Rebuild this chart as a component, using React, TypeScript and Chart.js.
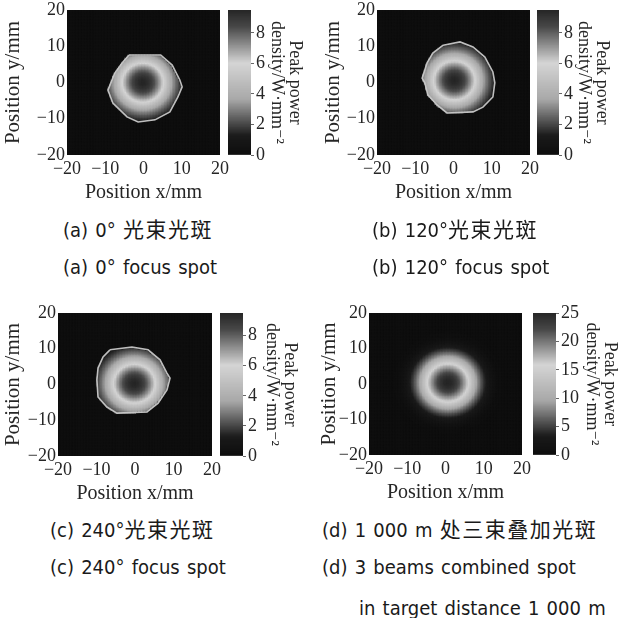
import React, { useEffect, useRef } from 'react';
import { Chart, registerables } from 'chart.js';

Chart.register(...registerables);

// ---------------- data ----------------
const POSITION_TICKS = [-20, -10, 0, 10, 20];
const POSITION_MIN = -20;
const POSITION_MAX = 20;

const SINGLE_BEAM_TICKS = [0, 2, 4, 6, 8];
const SINGLE_BEAM_MAX = 9.5;
const COMBINED_TICKS = [0, 5, 10, 15, 20, 25];
const COMBINED_MAX = 25;

// radial peak power density profile, sampled at r = 0,1,2,... mm
const PROFILE_RADII = [0, 1, 2, 3, 4, 5, 6, 7, 8, 9, 10, 11, 12, 13, 14, 15, 16];
const PROFILE_A = [9.5, 9.3, 8.9, 8.2, 7.3, 6.3, 5.2, 4.1, 3.1, 2.3, 1.6, 1.1, 0.7, 0.4, 0.2, 0.1, 0];
const PROFILE_B = [9.5, 9.3, 8.9, 8.2, 7.3, 6.3, 5.2, 4.1, 3.1, 2.3, 1.6, 1.1, 0.7, 0.4, 0.2, 0.1, 0];
const PROFILE_C = [9.5, 9.3, 8.9, 8.2, 7.3, 6.3, 5.2, 4.1, 3.1, 2.3, 1.6, 1.1, 0.7, 0.4, 0.2, 0.1, 0];
const PROFILE_D = [25, 24.6, 23.5, 21.5, 19, 16.5, 13.5, 10.5, 7.5, 5, 3, 1.7, 0.9, 0.4, 0.2, 0.1, 0];

// beam centres (mm)
const CENTER_A = [0.0, 0.1];
const CENTER_B = [0.4, 0.7];
const CENTER_C = [0.0, 0.4];
const CENTER_D = [0.8, 0.5];

// aperture (spot truncation) outlines, [x, y] in mm
const APERTURE_A = [
  [-3.8, 7.6], [4.5, 7.6], [7.5, 4.8], [9.5, 0.7], [10.1, -1.2], [9.0, -4.0],
  [6.9, -8.1], [3.0, -10.3], [-1.4, -10.9], [-4.3, -9.5], [-8.0, -5.7],
  [-9.3, -2.1], [-7.5, 2.6], [-5.6, 5.4],
];
const APERTURE_B = [
  [-2.7, 10.3], [1.7, 11.2], [5.1, 9.8], [8.2, 7.0], [10.3, 2.9], [10.8, -0.1],
  [10.3, -4.0], [7.7, -6.8], [5.1, -8.1], [-1.7, -8.4], [-4.3, -6.2], [-6.7, -3.4],
  [-7.5, -0.1], [-8.2, 1.2], [-6.9, 5.4], [-5.4, 8.1],
];
const APERTURE_C = [
  [-6.5, 9.7], [-0.8, 10.5], [3.4, 9.7], [6.5, 6.9], [8.3, 3.2], [9.1, 1.8],
  [8.3, -1.5], [6.0, -5.2], [3.1, -7.7], [-4.7, -8.0], [-7.3, -6.3], [-9.6, -3.5],
  [-9.9, 1.3], [-9.6, 4.6], [-8.3, 7.7],
];

const CAPTION_A = ['(a) 0° 光束光斑', '(a) 0° focus spot'];
const CAPTION_B = ['(b) 120°光束光斑', '(b) 120° focus spot'];
const CAPTION_C = ['(c) 240°光束光斑', '(c) 240° focus spot'];
const CAPTION_D = ['(d) 1 000 m 处三束叠加光斑', '(d) 3 beams combined spot', 'in target distance 1 000 m'];

const X_TITLE = 'Position x/mm';
const Y_TITLE = 'Position y/mm';
const CB_TITLE = ['Peak power', 'density/W·mm⁻²'];

// ---------------- helpers ----------------
const GRID_STEP = 0.4;
const SERIF = '"Liberation Serif", "DejaVu Serif", serif';
const TEXT = '#262626';

function jetGray(t: number): string {
  const c = Math.min(1, Math.max(0, t));
  const cl = (v: number) => Math.min(1, Math.max(0, v));
  const r = cl(1.5 - Math.abs(4 * c - 3));
  const g = cl(1.5 - Math.abs(4 * c - 2));
  const b = cl(1.5 - Math.abs(4 * c - 1));
  const lum = 0.299 * r + 0.587 * g + 0.114 * b;
  const v = Math.round(lum * 240);
  return `rgb(${v},${v},${v})`;
}

function profileAt(profile: number[], r: number): number {
  const last = PROFILE_RADII.length - 1;
  if (r >= PROFILE_RADII[last]) return profile[last];
  let i = 0;
  while (i < last && PROFILE_RADII[i + 1] < r) i++;
  const r0 = PROFILE_RADII[i];
  const r1 = PROFILE_RADII[i + 1];
  const f = (r - r0) / (r1 - r0);
  return profile[i] * (1 - f) + profile[i + 1] * f;
}

function inside(x: number, y: number, poly: number[][]): boolean {
  let inn = false;
  for (let i = 0, j = poly.length - 1; i < poly.length; j = i++) {
    const [xi, yi] = poly[i];
    const [xj, yj] = poly[j];
    if ((yi > y) !== (yj > y) && x < ((xj - xi) * (y - yi)) / (yj - yi) + xi) inn = !inn;
  }
  return inn;
}

const tickFmt = (v: any) => String(v).replace('-', '\u2212');

const areaBg = {
  id: 'areaBg',
  beforeDatasetsDraw(chart: any) {
    const { ctx, chartArea } = chart;
    ctx.save();
    ctx.fillStyle = jetGray(0);
    ctx.fillRect(chartArea.left, chartArea.top, chartArea.width, chartArea.height);
    ctx.restore();
  },
};

type Panel = {
  key: string;
  profile: number[];
  center: number[];
  aperture: number[][] | null;
  cbMax: number;
  cbTicks: number[];
  caption: string[];
  plot: { l: number; t: number; r: number; b: number };
  canvasLeft: number;
  yTitleX: number;
  xTickY: number;
  xTitleY: number;
  cb: { l: number; r: number };
  cbTitleX: number;
  captionLeft: number[];
  captionY: number[];
};

const PANELS: Panel[] = [
  {
    key: 'a', profile: PROFILE_A, center: CENTER_A, aperture: APERTURE_A,
    cbMax: SINGLE_BEAM_MAX, cbTicks: SINGLE_BEAM_TICKS, caption: CAPTION_A,
    plot: { l: 67, t: 10, r: 220, b: 155 }, canvasLeft: 0, yTitleX: 13, xTickY: 169, xTitleY: 193,
    cb: { l: 228, r: 251 }, cbTitleX: 295, captionLeft: [63, 63], captionY: [230, 267],
  },
  {
    key: 'b', profile: PROFILE_B, center: CENTER_B, aperture: APERTURE_B,
    cbMax: SINGLE_BEAM_MAX, cbTicks: SINGLE_BEAM_TICKS, caption: CAPTION_B,
    plot: { l: 377, t: 10, r: 530, b: 155 }, canvasLeft: 305, yTitleX: 333, xTickY: 169, xTitleY: 193,
    cb: { l: 537, r: 559 }, cbTitleX: 602, captionLeft: [372, 372], captionY: [230, 267],
  },
  {
    key: 'c', profile: PROFILE_C, center: CENTER_C, aperture: APERTURE_C,
    cbMax: SINGLE_BEAM_MAX, cbTicks: SINGLE_BEAM_TICKS, caption: CAPTION_C,
    plot: { l: 58, t: 313, r: 212, b: 456 }, canvasLeft: 0, yTitleX: 13, xTickY: 470, xTitleY: 494,
    cb: { l: 220, r: 243 }, cbTitleX: 290, captionLeft: [50, 50], captionY: [530, 567],
  },
  {
    key: 'd', profile: PROFILE_D, center: CENTER_D, aperture: null,
    cbMax: COMBINED_MAX, cbTicks: COMBINED_TICKS, caption: CAPTION_D,
    plot: { l: 369, t: 313, r: 522, b: 455 }, canvasLeft: 305, yTitleX: 329, xTickY: 469, xTitleY: 493,
    cb: { l: 533, r: 556 }, cbTitleX: 610, captionLeft: [322, 322, 359], captionY: [530, 567, 608],
  },
];

function heatGeom(p: Panel) {
  const left = p.canvasLeft;
  const top = p.plot.t - 12;
  const right = p.plot.r + 16;
  const bottom = p.xTitleY + 12;
  return { left, top, width: right - left, height: bottom - top, right, bottom };
}

function cbGeom(p: Panel) {
  const left = p.cb.l - 4;
  const top = p.plot.t - 12;
  const right = p.cbTitleX + 10;
  const bottom = p.plot.b + 12;
  return { left, top, width: right - left, height: bottom - top, right, bottom };
}

function CaptionText({ text }: { text: string }) {
  const parts = text.split(/([\u4e00-\u9fff]+)/).filter((s) => s.length > 0);
  return (
    <>
      {parts.map((s, i) =>
        /[\u4e00-\u9fff]/.test(s) ? (
          <span key={i} style={{ fontSize: 21, letterSpacing: 1.5 }}>{s}</span>
        ) : (
          <span key={i}>{s}</span>
        ),
      )}
    </>
  );
}

function HeatPanel({ p }: { p: Panel }) {
  const heatRef = useRef<HTMLCanvasElement | null>(null);
  const cbRef = useRef<HTMLCanvasElement | null>(null);
  const hg = heatGeom(p);
  const cg = cbGeom(p);

  useEffect(() => {
    // heat map cells
    const pts: { x: number; y: number }[] = [];
    const cols: string[] = [];
    const n = Math.round((POSITION_MAX - POSITION_MIN) / GRID_STEP);
    for (let i = 0; i < n; i++) {
      const x = POSITION_MIN + GRID_STEP * (i + 0.5);
      for (let j = 0; j < n; j++) {
        const y = POSITION_MIN + GRID_STEP * (j + 0.5);
        const isIn = !p.aperture || inside(x, y, p.aperture);
        const r = Math.hypot(x - p.center[0], y - p.center[1]);
        const v = isIn ? profileAt(p.profile, r) : 0;
        pts.push({ x, y });
        cols.push(jetGray(v / p.cbMax));
      }
    }
    const datasets: any[] = [];
    if (p.aperture) {
      const outline = p.aperture.map(([x, y]) => ({ x, y }));
      outline.push({ x: p.aperture[0][0], y: p.aperture[0][1] });
      datasets.push({
        data: outline, showLine: true, borderColor: 'rgba(200,200,200,0.95)', borderWidth: 1.6,
        pointRadius: 0, fill: false, order: 0, tension: 0,
      });
    }
    datasets.push({
      data: pts, backgroundColor: cols, pointStyle: 'rect', pointRadius: 1.9,
      borderWidth: 0, order: 1,
    });

    const titleLH = 20;
    const tickLH = 18;
    const heat = new Chart(heatRef.current as HTMLCanvasElement, {
      type: 'scatter',
      data: { datasets },
      plugins: [areaBg],
      options: {
        responsive: false,
        animation: false,
        events: [],
        layout: { padding: { left: 0, top: p.plot.t - hg.top, right: hg.right - p.plot.r, bottom: 0 } },
        plugins: { legend: { display: false }, tooltip: { enabled: false } },
        scales: {
          x: {
            type: 'linear', position: 'bottom', min: POSITION_MIN, max: POSITION_MAX,
            afterBuildTicks: (s: any) => { s.ticks = POSITION_TICKS.map((v) => ({ value: v })); },
            afterFit: (s: any) => { s.height = hg.bottom - p.plot.b; s.paddingLeft = 0; s.paddingRight = 0; },
            grid: { display: false, drawTicks: false },
            border: { display: false },
            ticks: {
              padding: p.xTickY - p.plot.b - tickLH / 2, autoSkip: false, maxRotation: 0,
              font: { family: SERIF, size: 18, lineHeight: 1 }, color: TEXT, callback: tickFmt,
            },
            title: {
              display: true, text: X_TITLE, color: TEXT,
              font: { family: SERIF, size: 20, lineHeight: 1 },
              padding: { top: 0, bottom: hg.bottom - p.xTitleY - titleLH / 2 },
            },
          },
          y: {
            type: 'linear', position: 'left', min: POSITION_MIN, max: POSITION_MAX,
            afterBuildTicks: (s: any) => { s.ticks = POSITION_TICKS.map((v) => ({ value: v })); },
            afterFit: (s: any) => { s.width = p.plot.l - hg.left; s.paddingTop = 0; s.paddingBottom = 0; },
            grid: { display: false, drawTicks: false },
            border: { display: false },
            ticks: {
              padding: 2, autoSkip: false,
              font: { family: SERIF, size: 18, lineHeight: 1 }, color: TEXT, callback: tickFmt,
            },
            title: {
              display: true, text: Y_TITLE, color: TEXT,
              font: { family: SERIF, size: 21, lineHeight: 1 },
              padding: { top: p.yTitleX - hg.left - 21 / 2, bottom: 0 },
            },
          },
        },
      } as any,
    });

    // colour bar
    const N = 120;
    const segs: any[] = [];
    for (let i = 0; i < N; i++) {
      const lo = (p.cbMax * i) / N;
      const hi = Math.min(p.cbMax, (p.cbMax * (i + 1.8)) / N);
      segs.push({
        data: [[lo, hi]], backgroundColor: jetGray((i + 0.5) / N), borderWidth: 0,
        grouped: false, barPercentage: 1, categoryPercentage: 1,
      });
    }
    const cbLH = 18;
    const cb = new Chart(cbRef.current as HTMLCanvasElement, {
      type: 'bar',
      data: { labels: [''], datasets: segs },
      options: {
        responsive: false,
        animation: false,
        events: [],
        layout: { padding: { left: p.cb.l - cg.left, top: p.plot.t - cg.top, bottom: cg.bottom - p.plot.b, right: 0 } },
        plugins: { legend: { display: false }, tooltip: { enabled: false } },
        scales: {
          x: { display: false },
          y: {
            type: 'linear', position: 'right', min: 0, max: p.cbMax,
            afterBuildTicks: (s: any) => { s.ticks = p.cbTicks.map((v) => ({ value: v })); },
            afterFit: (s: any) => { s.width = cg.right - p.cb.r; s.paddingTop = 0; s.paddingBottom = 0; },
            grid: { display: true, drawOnChartArea: false, drawTicks: true, tickLength: 3, color: '#666', lineWidth: 1 },
            border: { display: false },
            ticks: { padding: 2, font: { family: SERIF, size: 18, lineHeight: 1 }, color: TEXT },
            title: {
              display: true, text: CB_TITLE, color: TEXT,
              font: { family: SERIF, size: 18, lineHeight: 1 },
              padding: { top: cg.right - p.cbTitleX - cbLH / 2, bottom: 0 },
            },
          },
        },
      } as any,
    });

    return () => {
      heat.destroy();
      cb.destroy();
    };
  }, []);

  return (
    <>
      <canvas
        ref={heatRef}
        width={hg.width}
        height={hg.height}
        style={{ position: 'absolute', left: hg.left, top: hg.top, width: hg.width, height: hg.height }}
      />
      <canvas
        ref={cbRef}
        width={cg.width}
        height={cg.height}
        style={{ position: 'absolute', left: cg.left, top: cg.top, width: cg.width, height: cg.height }}
      />
      {p.caption.map((t, i) => (
        <div
          key={i}
          style={{
            position: 'absolute', left: p.captionLeft[i], top: p.captionY[i] - 13, height: 26,
            lineHeight: '26px', fontSize: 20, whiteSpace: 'pre', color: '#1a1a1a', wordSpacing: 1.5,
            fontFamily: '"DejaVu Sans Condensed", "Noto Sans CJK SC", sans-serif',
          }}
        >
          <CaptionText text={t} />
        </div>
      ))}
    </>
  );
}

export default function App() {
  return (
    <div
      style={{
        position: 'absolute', left: 0, top: 0, width: 619, height: 618, overflow: 'hidden',
        background: '#ffffff',
      }}
    >
      {PANELS.map((p) => (
        <HeatPanel key={p.key} p={p} />
      ))}
    </div>
  );
}
